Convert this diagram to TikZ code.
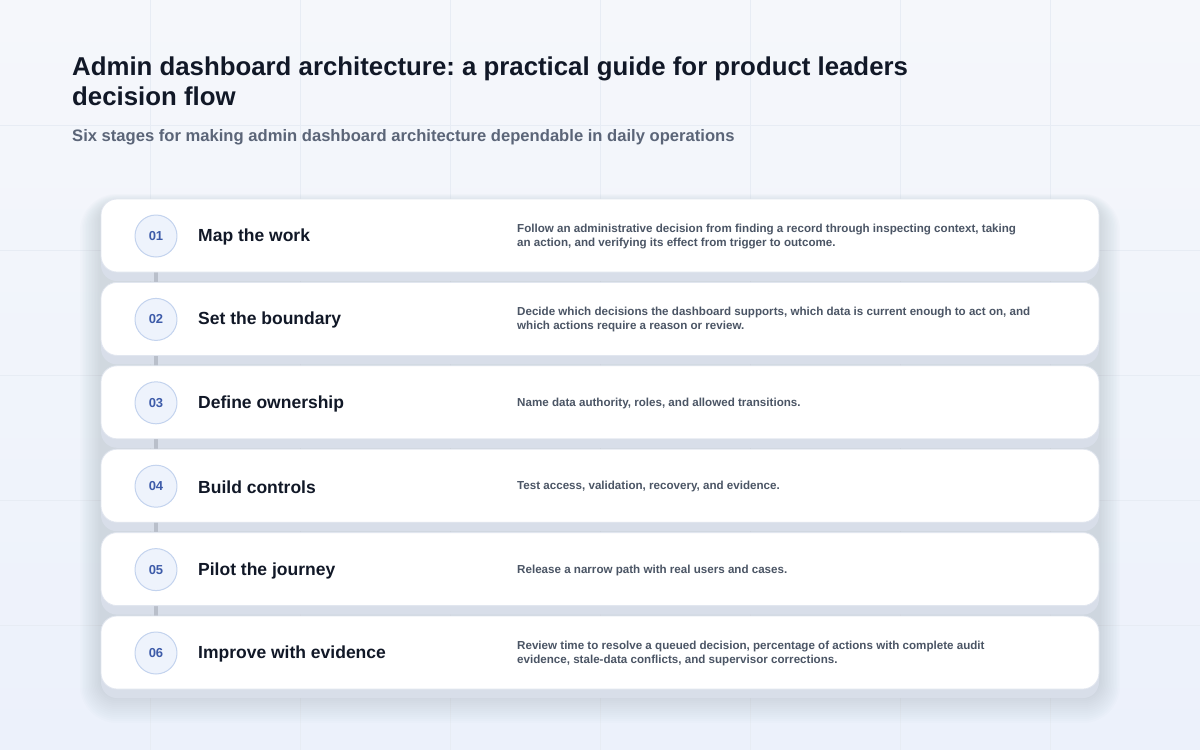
\documentclass[tikz,border=0pt]{standalone}
\usepackage{fontspec}
\setmainfont{Liberation Sans}
\usetikzlibrary{positioning}
\frenchspacing

\definecolor{pagetop}{HTML}{F5F7FB}
\definecolor{pagebot}{HTML}{ECF1FB}
\definecolor{gridline}{HTML}{E7ECF4}
\definecolor{inkdark}{HTML}{111827}
\definecolor{inksub}{HTML}{5B6578}
\definecolor{inkdesc}{HTML}{4B5565}
\definecolor{numblue}{HTML}{3D5BA9}
\definecolor{numfill}{HTML}{EEF3FC}
\definecolor{numdraw}{HTML}{C3D3EE}
\definecolor{cardedge}{HTML}{E1E6EF}
\definecolor{bandgray}{HTML}{D8DEE9}
\definecolor{railgray}{HTML}{B9BFCA}
\definecolor{shadowtint}{HTML}{3A4A78}

\begin{document}
\begin{tikzpicture}[x=1pt, y=-1pt, line join=round]

  \def\CardTop{199}
  \def\Gap{83.4}
  \def\CardH{73}

  % Colors and styles
  \tikzset{
    stage-card/.style={draw=cardedge, line width=0.8pt, fill=white, rounded corners=16pt,
      minimum width=998pt, minimum height=\CardH pt, inner sep=0pt},
    stage-num/.style={circle, draw=numdraw, line width=1pt, fill=numfill, minimum size=42pt,
      inner sep=0pt, text=numblue, font=\fontsize{13}{13}\selectfont\bfseries},
    stage-title/.style={anchor=west, inner sep=0pt, text=inkdark,
      font=\fontsize{17.5}{20}\selectfont\bfseries},
    stage-desc/.style={anchor=west, inner sep=0pt, align=left, text=inkdesc,
      font=\fontsize{11.6}{14}\selectfont\bfseries},
    rail/.style={line width=4pt, railgray},
  }

  % Page
  \useasboundingbox (0,0) rectangle (1200,750);
  \shade[top color=pagetop, bottom color=pagebot] (0,0) rectangle (1200,750);
  \foreach \x in {150,300,...,1050}
    \draw[gridline, line width=1pt] (\x,0) -- (\x,750);
  \foreach \y in {125,250,...,625}
    \draw[gridline, line width=1pt] (0,\y) -- (1200,\y);

  % Heading
  \node[anchor=north west, inner sep=0pt, align=left, text=inkdark,
    font=\fontsize{25.8}{30}\selectfont\bfseries] (title) at (72,57)
    {Admin dashboard architecture: a practical guide for product leaders\\decision flow};
  \node[anchor=base west, inner sep=0pt, text=inksub,
    font=\fontsize{16.6}{18}\selectfont\bfseries] (subtitle) at (72,141)
    {Six stages for making admin dashboard architecture dependable in daily operations};

  % Soft shadow behind the stack (stacked translucent layers)
  \foreach \k in {1,...,14} {
    \fill[shadowtint, opacity=0.013, rounded corners=16pt+1.5pt*\k]
      (101-1.5*\k,205-0.8*\k) rectangle (1099+1.5*\k,695+2*\k);
  }

  % Shadow bands under each card
  \foreach \i in {1,...,6} {
    \pgfmathsetmacro{\ytop}{\CardTop+(\i-1)*\Gap}
    \fill[bandgray, rounded corners=16pt] (101,\ytop+9) rectangle (1099,\ytop+\CardH+9);
    \coordinate (dot\i) at (156,\ytop+\CardH/2);
  }

  % Rail
  \draw[rail] (dot1) -- (dot6);

  % Stages
  \foreach \i/\ttl/\desc in {
    1/{Map the work}/{Follow an administrative decision from finding a record through inspecting context, taking\\an action, and verifying its effect from trigger to outcome.},
    2/{Set the boundary}/{Decide which decisions the dashboard supports, which data is current enough to act on, and\\which actions require a reason or review.},
    3/{Define ownership}/{Name data authority, roles, and allowed transitions.},
    4/{Build controls}/{Test access, validation, recovery, and evidence.},
    5/{Pilot the journey}/{Release a narrow path with real users and cases.},
    6/{Improve with evidence}/{Review time to resolve a queued decision, percentage of actions with complete audit\\evidence, stale-data conflicts, and supervisor corrections.}} {
    \pgfmathsetmacro{\ymid}{\CardTop+(\i-1)*\Gap+\CardH/2}
    \node[stage-card] (card\i) at (600,\ymid) {};
    \node[stage-num] (num\i) at (156,\ymid+0.5) {0\i};
    \node[stage-title] (ttl\i) at (198,\ymid+1.5) {\ttl};
    \node[stage-desc] (desc\i) at (517,\ymid+1) {\desc};
  }

\end{tikzpicture}
\end{document}
